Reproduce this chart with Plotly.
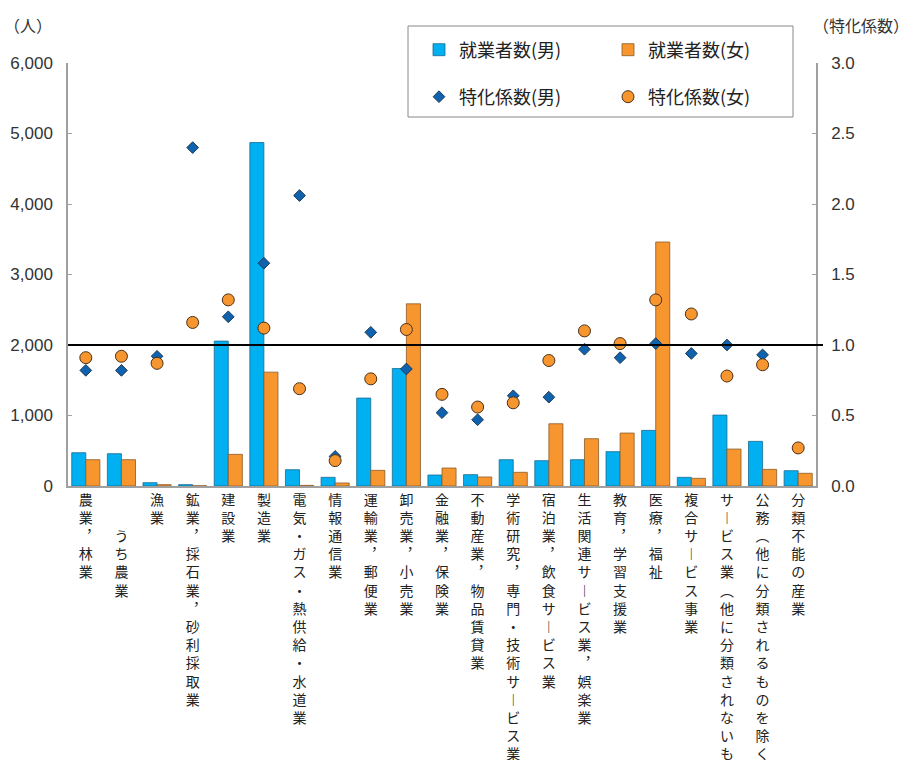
import plotly.graph_objects as go

categories = [
    "農業，林業", "うち農業", "漁業", "鉱業，採石業，砂利採取業", "建設業", "製造業",
    "電気・ガス・熱供給・水道業", "情報通信業", "運輸業，郵便業", "卸売業，小売業",
    "金融業，保険業", "不動産業，物品賃貸業", "学術研究，専門・技術サービス業",
    "宿泊業，飲食サービス業", "生活関連サービス業，娯楽業", "教育，学習支援業",
    "医療，福祉", "複合サービス事業", "サービス業（他に分類されないもの）",
    "公務（他に分類されるものを除く）", "分類不能の産業",
]
label_prefix_lines = [0, 2, 0, 0, 0, 0, 0, 0, 0, 0, 0, 0, 0, 0, 0, 0, 0, 0, 0, 0, 0]

workers_male = [472, 458, 47, 19, 2055, 4872, 231, 123, 1247, 1667,
                156, 161, 373, 359, 373, 487, 789, 123, 1006, 633, 217]
workers_female = [373, 373, 19, 3, 449, 1615, 9, 43, 222, 2584,
                  255, 128, 194, 883, 671, 751, 3461, 109, 524, 236, 180]
coef_male = [0.82, 0.82, 0.92, 2.40, 1.20, 1.58, 2.06, 0.21, 1.09, 0.83,
             0.52, 0.47, 0.64, 0.63, 0.97, 0.91, 1.01, 0.94, 1.00, 0.93, None]
coef_female = [0.91, 0.92, 0.87, 1.16, 1.32, 1.12, 0.69, 0.18, 0.76, 1.11,
               0.65, 0.56, 0.59, 0.89, 1.10, 1.01, 1.32, 1.22, 0.78, 0.86, 0.27]

left_ticks = [0, 1000, 2000, 3000, 4000, 5000, 6000]
right_ticks = [0.0, 0.5, 1.0, 1.5, 2.0, 2.5, 3.0]

VMAP = {"，": "︐", "ー": "︱", "（": "︵", "）": "︶"}


def vertical(label, pre):
    chars = ["　"] * pre + [VMAP.get(c, c) for c in label]
    return "<br>".join(chars)


ticktext = [vertical(c, p) for c, p in zip(categories, label_prefix_lines)]

BLUE = "#00B0F0"
ORANGE = "#F7962F"
DIAMOND = "#0F62AE"
FONT = "Liberation Sans, Noto Sans CJK JP, sans-serif"
CJK = "Noto Sans CJK JP, sans-serif"

fig = go.Figure()
fig.add_trace(go.Bar(
    x=categories, y=workers_male, name="就業者数(男)",
    marker=dict(color=BLUE, line=dict(color="#1A6A90", width=0.8)),
    legend="legend",
))
fig.add_trace(go.Bar(
    x=categories, y=workers_female, name="就業者数(女)",
    marker=dict(color=ORANGE, line=dict(color="#8A5A28", width=0.8)),
    legend="legend",
))
fig.add_trace(go.Scatter(
    x=categories, y=coef_male, name="特化係数(男)", mode="markers", yaxis="y2",
    marker=dict(symbol="diamond", size=9, color=DIAMOND, line=dict(color="#203A55", width=1)),
    legend="legend2",
))
fig.add_trace(go.Scatter(
    x=categories, y=coef_female, name="特化係数(女)", mode="markers", yaxis="y2",
    marker=dict(symbol="circle", size=12, color=ORANGE, line=dict(color="#4A3018", width=1)),
    legend="legend2",
))

L, R, T, B = 68, 816, 63, 486
W, H = 905, 760


def px_x(px):
    return (px - L) / (R - L)


def px_y(py):
    return (B - py) / (B - T)


legend_common = dict(
    orientation="h", xanchor="left", yanchor="middle",
    font=dict(family=CJK, size=18, color="#222"),
    bgcolor="rgba(0,0,0,0)", borderwidth=0,
    entrywidth=144, entrywidthmode="pixels", itemwidth=30,
    traceorder="normal",
)

fig.update_layout(
    width=W, height=H,
    margin=dict(l=L, r=W - R, t=T, b=H - B, autoexpand=False),
    paper_bgcolor="white", plot_bgcolor="white",
    barmode="group", bargap=0.21, bargroupgap=0,
    font=dict(family=FONT, size=17, color="#333"),
    showlegend=True,
    legend=dict(x=px_x(419), y=px_y(50), **legend_common),
    legend2=dict(x=px_x(419), y=px_y(97), **legend_common),
    xaxis=dict(
        type="category", tickmode="array", tickvals=categories, ticktext=ticktext,
        tickangle=0, tickfont=dict(family=CJK, size=14, color="#222"),
        showline=True, linecolor="#A0A0A0", linewidth=1.5, ticks="",
        showgrid=False, automargin=False, range=[-0.5, 20.5],
    ),
    yaxis=dict(
        range=[0, 6000], tickmode="array", tickvals=left_ticks,
        ticktext=[f"{v:,}" for v in left_ticks],
        showline=True, linecolor="#A0A0A0", linewidth=1.5,
        ticks="inside", ticklen=4, tickcolor="#A0A0A0",
        showgrid=False, zeroline=False, automargin=False,
        ticklabelstandoff=10,
    ),
    yaxis2=dict(
        range=[0, 3], overlaying="y", side="right", tickmode="array",
        tickvals=right_ticks, ticktext=[f"{v:.1f}" for v in right_ticks],
        showline=True, linecolor="#A0A0A0", linewidth=1.5,
        ticks="inside", ticklen=4, tickcolor="#A0A0A0",
        showgrid=False, zeroline=False, automargin=False,
        ticklabelstandoff=10,
    ),
    shapes=[
        dict(type="rect", xref="paper", yref="paper",
             x0=px_x(408), x1=px_x(793), y0=px_y(117), y1=px_y(26),
             line=dict(color="#888", width=1), fillcolor="white", layer="below"),
        dict(type="line", xref="paper", yref="y2", x0=0, x1=px_x(823), y0=1.0, y1=1.0,
             line=dict(color="black", width=2), layer="above"),
    ],
    annotations=[
        dict(text="（人）", xref="paper", yref="paper", x=px_x(2), y=px_y(25),
             xanchor="left", yanchor="middle", showarrow=False,
             font=dict(family=CJK, size=16, color="#333")),
        dict(text="（特化係数）", xref="paper", yref="paper", x=px_x(911), y=px_y(25),
             xanchor="right", yanchor="middle", showarrow=False,
             font=dict(family=CJK, size=16, color="#333")),
    ],
)

fig.write_html("out.html")
